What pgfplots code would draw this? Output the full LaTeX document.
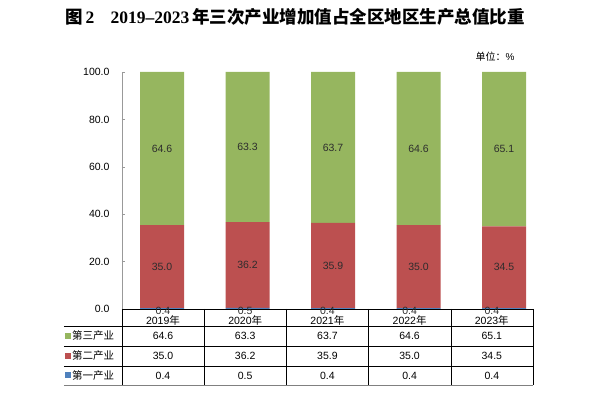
\documentclass[border=0pt]{standalone}
\usepackage{fontspec}
\setmainfont{Liberation Sans}
\newfontfamily\cjk{Noto Sans CJK SC}
\newfontfamily\tser{Liberation Serif}
\usepackage{pgfplots}
\pgfplotsset{compat=1.18}
\definecolor{g3}{RGB}{150,182,95}
\definecolor{r2}{RGB}{188,80,80}
\definecolor{b1}{RGB}{79,129,189}
\definecolor{lab}{RGB}{45,45,45}
\begin{document}
\begin{tikzpicture}[font=\fontsize{10.5}{12}\selectfont]
\useasboundingbox (-122pt,-84pt) rectangle (468pt,309pt);
\begin{axis}[at={(0,0)}, anchor=south west, scale only axis,
  width=411pt, height=237pt,
  ybar stacked, bar width=44pt,
  xmin=-0.468, xmax=4.339, ymin=0, ymax=100,
  axis x line=none, axis y line*=left,
  ytick={0,20,...,100}, xtick=\empty,
  yticklabel={\pgfmathprintnumber[fixed,fixed zerofill,precision=1]{\tick}},
  /pgf/number format/assume math mode=true,
  y axis line style={gray!80, -}, ytick style={gray!80},
  tick align=inside, major tick length=3pt,
  yticklabel style={font=\fontsize{10.5}{12}\selectfont, xshift=-9pt},
  clip=false]
\addplot[fill=b1, draw=none] coordinates {(0,0.4)(1,0.5)(2,0.4)(3,0.4)(4,0.4)};
\addplot[fill=r2, draw=none] coordinates {(0,35.0)(1,36.2)(2,35.9)(3,35.0)(4,34.5)};
\addplot[fill=g3, draw=none] coordinates {(0,64.6)(1,63.3)(2,63.7)(3,64.6)(4,65.1)};
\coordinate (g0) at (axis cs:0,67.7);
\coordinate (g1) at (axis cs:1,68.35);
\coordinate (g2) at (axis cs:2,68.15);
\coordinate (g3) at (axis cs:3,67.7);
\coordinate (g4) at (axis cs:4,67.45);
\coordinate (r0) at (axis cs:0,17.9);
\coordinate (r1) at (axis cs:1,18.6);
\coordinate (r2) at (axis cs:2,18.35);
\coordinate (r3) at (axis cs:3,17.9);
\coordinate (r4) at (axis cs:4,17.65);
\end{axis}
\foreach \v [count=\i from 0] in {64.6,63.3,63.7,64.6,65.1} \node[text=lab] at (g\i) {\v};
\foreach \v [count=\i from 0] in {35.0,36.2,35.9,35.0,34.5} \node[text=lab] at (r\i) {\v};
% data table under the chart
\foreach \x in {0,82.2,164.4,246.6,328.8,411} \draw[black, line width=0.6pt] (\x pt,0) -- (\x pt,-76pt);
\draw[black, line width=0.8pt] (0,0) -- (411pt,0);
\foreach \y in {-17,-37,-57} \draw[black, line width=0.6pt] (-58pt,\y pt) -- (411pt,\y pt);
\draw[gray, line width=0.8pt] (-58pt,-76pt) -- (411pt,-76pt);
\foreach \v [count=\i from 0] in {0.4,0.5,0.4,0.4,0.4}
  \node[text=lab] at (41pt+82.2pt*\i,-2pt) {\v};
\foreach \v [count=\i from 0] in {2019,2020,2021,2022,2023}
  \node at (41pt+82.2pt*\i,-11.5pt) {\v{\cjk 年}};
\foreach \v [count=\i from 0] in {64.6,63.3,63.7,64.6,65.1}
  \node at (41pt+82.2pt*\i,-27pt) {\v};
\foreach \v [count=\i from 0] in {35.0,36.2,35.9,35.0,34.5}
  \node at (41pt+82.2pt*\i,-47pt) {\v};
\foreach \v [count=\i from 0] in {0.4,0.5,0.4,0.4,0.4}
  \node at (41pt+82.2pt*\i,-66.5pt) {\v};
\fill[g3] (-57pt,-30pt) rectangle (-51pt,-24pt);
\fill[r2] (-57pt,-50pt) rectangle (-51pt,-44pt);
\fill[b1] (-57pt,-69.5pt) rectangle (-51pt,-63.5pt);
\node[anchor=west, inner sep=0pt] at (-50pt,-27pt) {\cjk 第三产业};
\node[anchor=west, inner sep=0pt] at (-50pt,-47pt) {\cjk 第二产业};
\node[anchor=west, inner sep=0pt] at (-50pt,-66.5pt) {\cjk 第一产业};
% title and unit
\node at (173pt,292pt) {\fontsize{17.5}{21}\selectfont\bfseries{\cjk 图}\,{\tser 2\enspace\, 2019–2023}\,{\cjk 年三次产业增加值占全区地区生产总值比重}};
\node at (373pt,252pt) {\fontsize{10}{12}\selectfont{\cjk 单位：}\%};
\end{tikzpicture}
\end{document}
